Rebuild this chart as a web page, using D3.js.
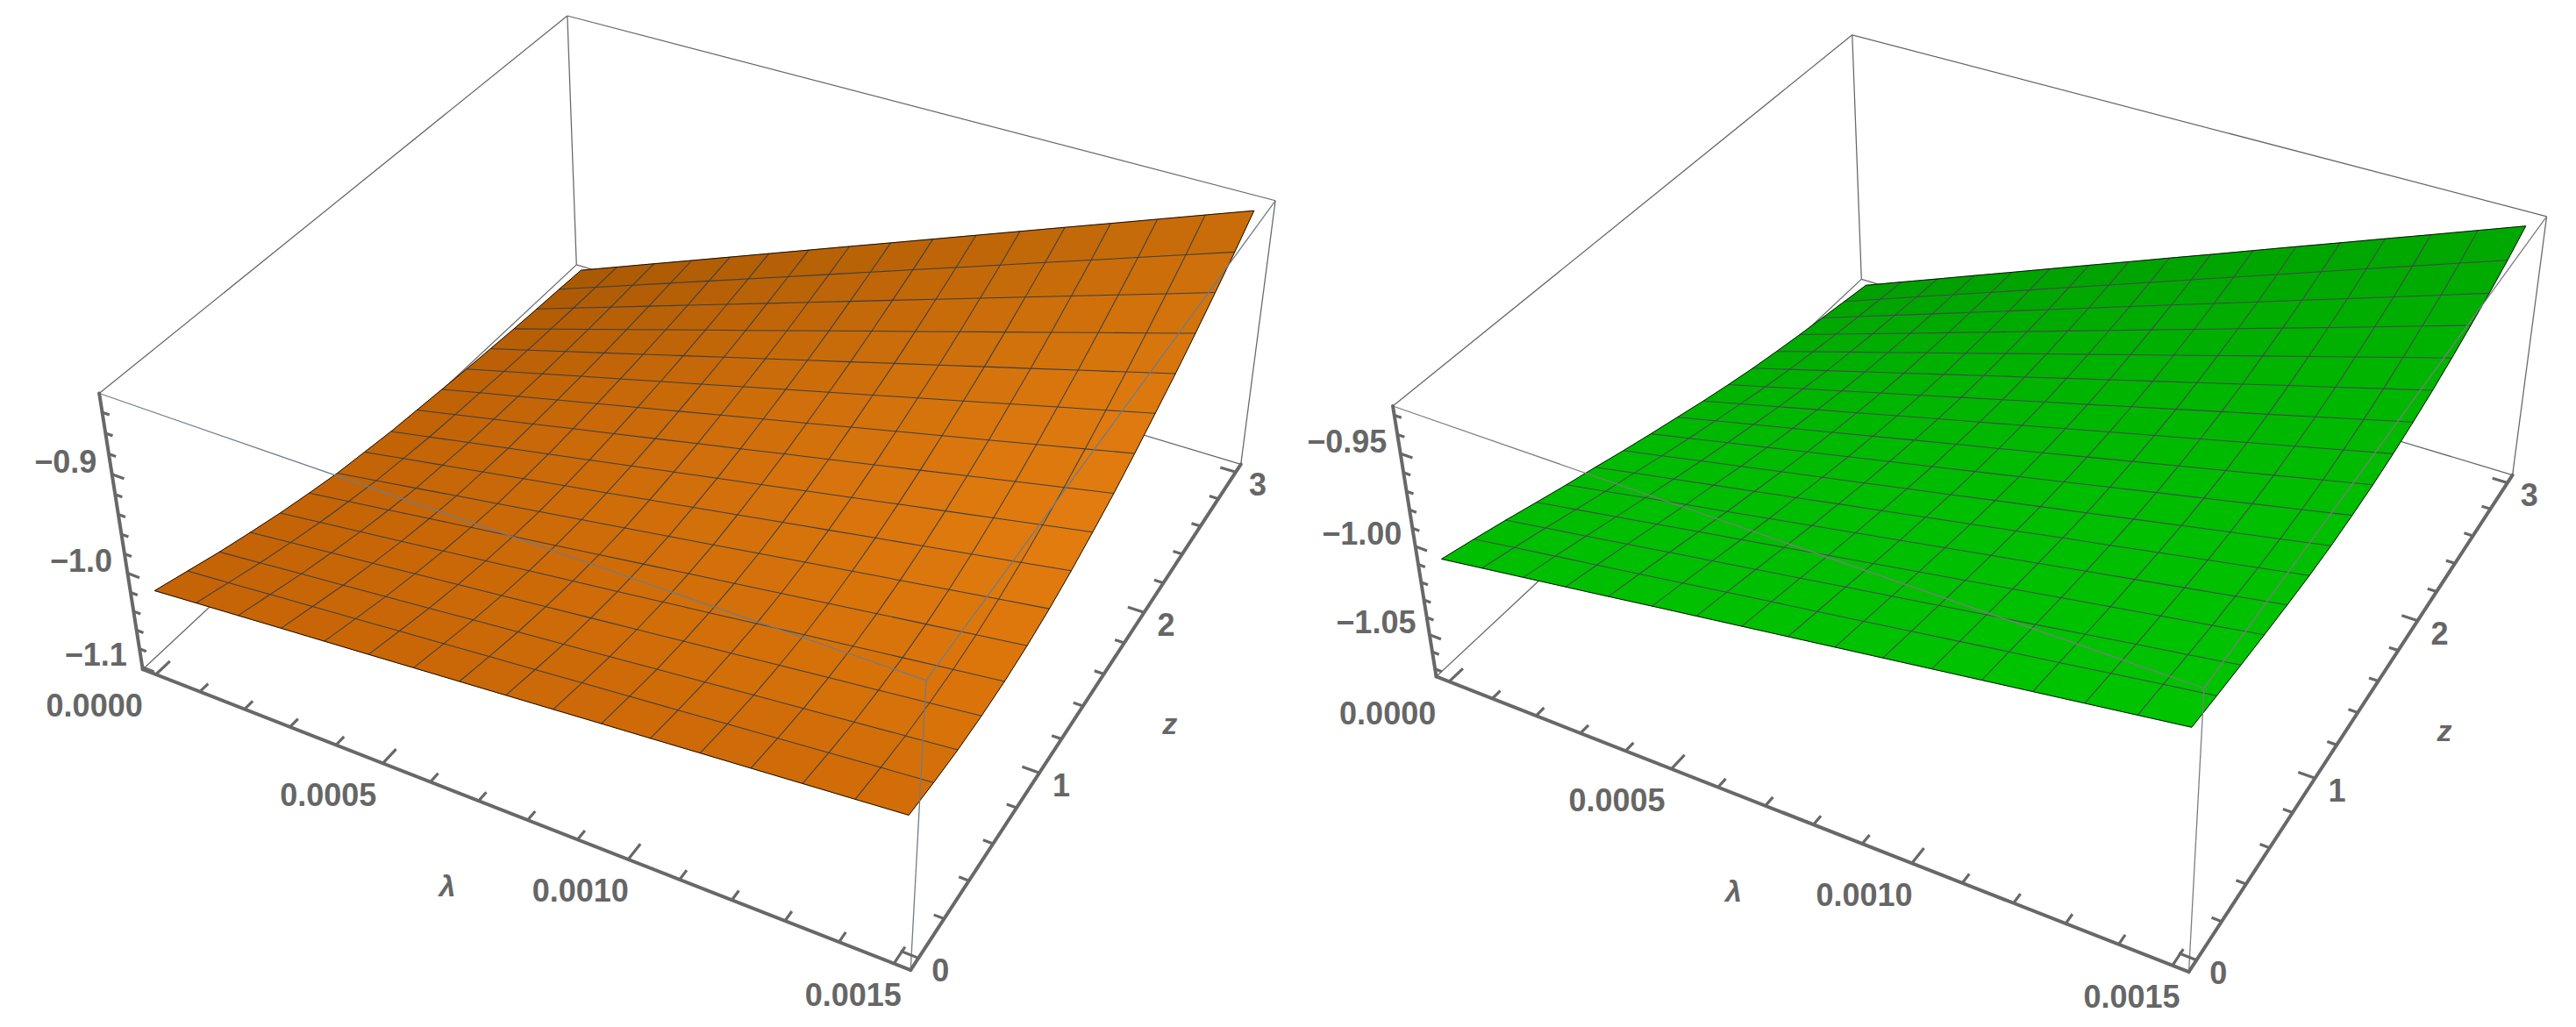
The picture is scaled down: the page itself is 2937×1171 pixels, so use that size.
<!DOCTYPE html>
<html>
<head>
<meta charset="utf-8">
<style>
html,body{margin:0;padding:0;background:#fff}
svg{display:block}
text{font-family:"Liberation Sans",Arial,sans-serif;fill:#666}
</style>
<script src="https://cdnjs.cloudflare.com/ajax/libs/d3/7.8.5/d3.min.js"></script>
</head>
<body>
<svg id="chart" width="2937" height="1171" viewBox="0 0 2937 1171"></svg>
<script>
// ---------- data ----------
const lambdaGrid = [0,0.00009375,0.0001875,0.00028125,0.000375,0.00046875,0.0005625,0.00065625,0.00075,0.00084375,0.0009375,0.00103125,0.001125,0.00121875,0.0013125,0.00140625,0.0015];
const zGrid = [0,0.1875,0.375,0.5625,0.75,0.9375,1.125,1.3125,1.5,1.6875,1.875,2.0625,2.25,2.4375,2.625,2.8125,3];

const lambdaMajorTicks = [0,0.0005,0.001,0.0015];
const lambdaTickLabels = ["0.0000","0.0005","0.0010","0.0015"];
const lambdaMinorTicks = [0.0001,0.0002,0.0003,0.0004,0.0006,0.0007,0.0008,0.0009,0.0011,0.0012,0.0013,0.0014];
const zMajorTicks = [0,1,2,3];
const zTickLabels = ["0","1","2","3"];
const zMinorTicks = [0.2,0.4,0.6,0.8,1.2,1.4,1.6,1.8,2.2,2.4,2.6,2.8];

const orangeValueMajor = [-1.1,-1.0,-0.9];
const orangeValueLabels = ["\u22121.1","\u22121.0","\u22120.9"];
const orangeValueMinor = [-1.08,-1.06,-1.04,-1.02,-0.98,-0.96,-0.94,-0.92,-0.88,-0.86,-0.84];
const orangeValueRange = [-1.1023,-0.8219];

const greenValueMajor = [-1.05,-1.0,-0.95];
const greenValueLabels = ["\u22121.05","\u22121.00","\u22120.95"];
const greenValueMinor = [-1.07,-1.06,-1.04,-1.03,-1.02,-1.01,-0.99,-0.98,-0.97,-0.96,-0.94,-0.93];
const greenValueRange = [-1.0745,-0.9253];

// rows: one per zGrid value; columns: one per lambdaGrid value
const orangeValues = [
[-1.0227,-1.0190,-1.0154,-1.0117,-1.0081,-1.0045,-1.0008,-0.9972,-0.9935,-0.9899,-0.9862,-0.9826,-0.9789,-0.9753,-0.9716,-0.9680,-0.9643],
[-1.0322,-1.0282,-1.0241,-1.0201,-1.0161,-1.0120,-1.0080,-1.0040,-1.0000,-0.9959,-0.9919,-0.9879,-0.9838,-0.9798,-0.9758,-0.9717,-0.9677],
[-1.0417,-1.0372,-1.0327,-1.0283,-1.0238,-1.0193,-1.0148,-1.0103,-1.0059,-1.0014,-0.9969,-0.9924,-0.9879,-0.9835,-0.9790,-0.9745,-0.9700],
[-1.0501,-1.0451,-1.0401,-1.0351,-1.0301,-1.0252,-1.0202,-1.0152,-1.0102,-1.0052,-1.0002,-0.9952,-0.9902,-0.9852,-0.9802,-0.9752,-0.9702],
[-1.0580,-1.0524,-1.0468,-1.0413,-1.0357,-1.0301,-1.0245,-1.0189,-1.0134,-1.0078,-1.0022,-0.9966,-0.9910,-0.9855,-0.9799,-0.9743,-0.9688],
[-1.0647,-1.0585,-1.0523,-1.0460,-1.0398,-1.0336,-1.0274,-1.0212,-1.0149,-1.0087,-1.0025,-0.9963,-0.9901,-0.9838,-0.9776,-0.9714,-0.9652],
[-1.0709,-1.0639,-1.0570,-1.0500,-1.0431,-1.0361,-1.0291,-1.0222,-1.0152,-1.0083,-1.0013,-0.9943,-0.9874,-0.9804,-0.9735,-0.9665,-0.9596],
[-1.0751,-1.0674,-1.0597,-1.0520,-1.0443,-1.0367,-1.0290,-1.0213,-1.0136,-1.0059,-0.9982,-0.9905,-0.9828,-0.9751,-0.9674,-0.9597,-0.9520],
[-1.0793,-1.0708,-1.0622,-1.0537,-1.0452,-1.0367,-1.0281,-1.0196,-1.0111,-1.0025,-0.9940,-0.9855,-0.9769,-0.9684,-0.9599,-0.9513,-0.9428],
[-1.0821,-1.0728,-1.0634,-1.0541,-1.0447,-1.0354,-1.0261,-1.0167,-1.0074,-0.9980,-0.9887,-0.9794,-0.9700,-0.9607,-0.9513,-0.9420,-0.9327],
[-1.0849,-1.0746,-1.0644,-1.0541,-1.0438,-1.0336,-1.0233,-1.0130,-1.0027,-0.9925,-0.9822,-0.9719,-0.9617,-0.9514,-0.9411,-0.9309,-0.9206],
[-1.0877,-1.0764,-1.0652,-1.0539,-1.0426,-1.0314,-1.0201,-1.0088,-0.9975,-0.9863,-0.9750,-0.9637,-0.9525,-0.9412,-0.9299,-0.9187,-0.9074],
[-1.0900,-1.0778,-1.0655,-1.0533,-1.0410,-1.0288,-1.0165,-1.0043,-0.9920,-0.9798,-0.9675,-0.9553,-0.9430,-0.9308,-0.9185,-0.9063,-0.8940],
[-1.0922,-1.0789,-1.0656,-1.0522,-1.0389,-1.0256,-1.0123,-0.9990,-0.9857,-0.9723,-0.9590,-0.9457,-0.9324,-0.9191,-0.9057,-0.8924,-0.8791],
[-1.0939,-1.0795,-1.0650,-1.0506,-1.0362,-1.0218,-1.0073,-0.9929,-0.9785,-0.9640,-0.9496,-0.9352,-0.9208,-0.9063,-0.8919,-0.8775,-0.8631],
[-1.0953,-1.0798,-1.0642,-1.0487,-1.0331,-1.0176,-1.0021,-0.9865,-0.9710,-0.9554,-0.9399,-0.9244,-0.9088,-0.8933,-0.8777,-0.8622,-0.8466],
[-1.0970,-1.0802,-1.0634,-1.0467,-1.0299,-1.0131,-0.9963,-0.9795,-0.9628,-0.9460,-0.9292,-0.9124,-0.8956,-0.8789,-0.8621,-0.8453,-0.8286]
];

const greenValues = [
[-1.0093,-1.0058,-1.0023,-0.9988,-0.9953,-0.9917,-0.9882,-0.9847,-0.9812,-0.9777,-0.9742,-0.9707,-0.9672,-0.9637,-0.9602,-0.9567,-0.9532],
[-1.0138,-1.0101,-1.0064,-1.0028,-0.9991,-0.9954,-0.9917,-0.9880,-0.9844,-0.9807,-0.9770,-0.9733,-0.9696,-0.9660,-0.9623,-0.9586,-0.9550],
[-1.0185,-1.0146,-1.0108,-1.0069,-1.0030,-0.9992,-0.9953,-0.9914,-0.9875,-0.9837,-0.9798,-0.9759,-0.9721,-0.9682,-0.9643,-0.9605,-0.9566],
[-1.0235,-1.0194,-1.0153,-1.0112,-1.0071,-1.0031,-0.9990,-0.9949,-0.9908,-0.9867,-0.9826,-0.9785,-0.9744,-0.9703,-0.9662,-0.9622,-0.9580],
[-1.0284,-1.0241,-1.0197,-1.0154,-1.0111,-1.0068,-1.0024,-0.9981,-0.9938,-0.9894,-0.9851,-0.9808,-0.9764,-0.9721,-0.9678,-0.9635,-0.9592],
[-1.0330,-1.0284,-1.0239,-1.0193,-1.0148,-1.0102,-1.0056,-1.0011,-0.9965,-0.9920,-0.9874,-0.9828,-0.9783,-0.9737,-0.9692,-0.9646,-0.9601],
[-1.0378,-1.0330,-1.0281,-1.0233,-1.0184,-1.0136,-1.0088,-1.0039,-0.9991,-0.9942,-0.9894,-0.9846,-0.9797,-0.9749,-0.9700,-0.9652,-0.9604],
[-1.0423,-1.0372,-1.0320,-1.0269,-1.0217,-1.0166,-1.0114,-1.0063,-1.0011,-0.9960,-0.9908,-0.9857,-0.9805,-0.9754,-0.9702,-0.9651,-0.9599],
[-1.0466,-1.0411,-1.0356,-1.0302,-1.0247,-1.0192,-1.0137,-1.0082,-1.0028,-0.9973,-0.9918,-0.9863,-0.9808,-0.9754,-0.9699,-0.9644,-0.9589],
[-1.0509,-1.0450,-1.0392,-1.0333,-1.0275,-1.0216,-1.0157,-1.0099,-1.0040,-0.9982,-0.9923,-0.9864,-0.9806,-0.9747,-0.9689,-0.9630,-0.9572],
[-1.0548,-1.0486,-1.0423,-1.0361,-1.0298,-1.0236,-1.0173,-1.0111,-1.0048,-0.9986,-0.9923,-0.9861,-0.9798,-0.9736,-0.9673,-0.9611,-0.9548],
[-1.0584,-1.0517,-1.0451,-1.0384,-1.0318,-1.0251,-1.0184,-1.0118,-1.0051,-0.9985,-0.9918,-0.9851,-0.9785,-0.9718,-0.9652,-0.9585,-0.9519],
[-1.0615,-1.0544,-1.0473,-1.0403,-1.0332,-1.0261,-1.0190,-1.0119,-1.0049,-0.9978,-0.9907,-0.9836,-0.9765,-0.9695,-0.9624,-0.9553,-0.9483],
[-1.0644,-1.0569,-1.0494,-1.0419,-1.0344,-1.0269,-1.0193,-1.0118,-1.0043,-0.9968,-0.9893,-0.9818,-0.9743,-0.9668,-0.9593,-0.9517,-0.9442],
[-1.0670,-1.0591,-1.0511,-1.0432,-1.0352,-1.0273,-1.0194,-1.0114,-1.0035,-0.9955,-0.9876,-0.9797,-0.9717,-0.9638,-0.9558,-0.9479,-0.9399],
[-1.0696,-1.0612,-1.0527,-1.0443,-1.0359,-1.0275,-1.0190,-1.0106,-1.0022,-0.9937,-0.9853,-0.9769,-0.9684,-0.9600,-0.9516,-0.9432,-0.9348],
[-1.0721,-1.0631,-1.0542,-1.0452,-1.0363,-1.0273,-1.0183,-1.0094,-1.0004,-0.9915,-0.9825,-0.9735,-0.9646,-0.9556,-0.9467,-0.9377,-0.9287]
];

// ---------- layout: the eight box corners on the page ([u,w,h] -> [x,y]) ----------
const cubeKeys = [[0,0,0],[1,0,0],[1,1,0],[0,1,0],[0,0,1],[1,0,1],[1,1,1],[0,1,1]];
const orangeBox = [[163,763.5],[1038,1106],[1415,529],[657,302],[113,448],[1056,776],[1454,229],[647,18]];
const greenBox  = [[1637.7,771.9],[2495.7,1107.9],[2864.7,541.5],[2122,318.4],[1588,462.3],[2512.6,785.3],[2903.6,246.8],[2112,40]];

function solve(A,b){
  const n=b.length, M=A.map((r,i)=>[...r,b[i]]);
  for(let c=0;c<n;c++){
    let p=c; for(let r=c+1;r<n;r++) if(Math.abs(M[r][c])>Math.abs(M[p][c])) p=r;
    [M[c],M[p]]=[M[p],M[c]];
    for(let r=0;r<n;r++){ if(r===c) continue; const f=M[r][c]/M[c][c]; for(let k=c;k<=n;k++) M[r][k]-=f*M[c][k]; }
  }
  return M.map((r,i)=>r[n]/r[i]);
}
// perspective camera fitted to the box corners
function fitCamera(box){
  const ox=box[0][0], oy=box[0][1], s=1000, rows=[], rhs=[];
  cubeKeys.forEach((c,i)=>{
    const x=(box[i][0]-ox)/s, y=(box[i][1]-oy)/s, [u,w,h]=c;
    rows.push([u,w,h,1,0,0,0,0,-x*u,-x*w,-x*h]); rhs.push(x);
    rows.push([0,0,0,0,u,w,h,1,-y*u,-y*w,-y*h]); rhs.push(y);
  });
  const ATA=d3.range(11).map(a=>d3.range(11).map(b=>d3.sum(rows,r=>r[a]*r[b])));
  const ATb=d3.range(11).map(a=>d3.sum(rows,(r,i)=>r[a]*rhs[i]));
  const p=solve(ATA,ATb);
  return (u,w,h)=>{
    const d=p[8]*u+p[9]*w+p[10]*h+1;
    return [ox+s*(p[0]*u+p[1]*w+p[2]*h+p[3])/d, oy+s*(p[4]*u+p[5]*w+p[6]*h+p[7])/d];
  };
}

const svg=d3.select("#chart");
const line=d3.line();
const pad=0.02/1.04;

function drawPanel(cfg){
  const g=svg.append("g");
  const project=fitCamera(cfg.box);
  const uScale=d3.scaleLinear().domain([0,0.0015]).range([pad,1-pad]);
  const wScale=d3.scaleLinear().domain([0,3]).range([pad,1-pad]);
  const hScale=d3.scaleLinear().domain(cfg.valueRange).range([0,1]);
  const pt=(l,z,v)=>project(uScale(l),wScale(z),hScale(v));
  const nodes=cfg.values.map((row,k)=>row.map((v,j)=>pt(lambdaGrid[j],zGrid[k],v)));
  const boxLine=(sel,a,b,st)=>sel.append("path").attr("d",line([project(...a),project(...b)])).attr("fill","none")
      .attr("stroke",st.color).attr("stroke-width",st.width).attr("stroke-linecap",st.cap||"butt").attr("opacity",st.opacity||1);

  // box edges behind the surface
  const thin={color:"#666",width:1.25};
  [[[0,0,0],[0,1,0]],[[0,1,0],[1,1,0]],[[0,1,0],[0,1,1]],[[0,0,1],[0,1,1]],[[0,1,1],[1,1,1]],[[1,1,0],[1,1,1]]]
    .forEach(e=>boxLine(g,e[0],e[1],thin));

  // surface cells
  const lowColor=d3.scaleLinear().domain(cfg.shadeStops.z).range(cfg.shadeStops.low).interpolate(d3.interpolateRgb);
  const highColor=d3.scaleLinear().domain(cfg.shadeStops.zHigh).range(cfg.shadeStops.high).interpolate(d3.interpolateRgb);
  const cells=[];
  for(let k=0;k<16;k++) for(let j=0;j<16;j++) cells.push({k,j});
  const cellColor=c=>{const z=(zGrid[c.k]+zGrid[c.k+1])/2,l=(lambdaGrid[c.j]+lambdaGrid[c.j+1])/2;return d3.interpolateRgb(lowColor(z),highColor(z))(l/0.0015);};
  g.append("g").selectAll("path").data(cells).join("path")
    .attr("d",c=>line([nodes[c.k][c.j],nodes[c.k][c.j+1],nodes[c.k+1][c.j+1],nodes[c.k+1][c.j]])+"Z")
    .attr("fill",cellColor).attr("stroke",cellColor).attr("stroke-width",0.7);

  // mesh
  const mesh=g.append("g").attr("fill","none").attr("stroke",cfg.meshColor).attr("stroke-width",1.05).attr("opacity",0.9);
  d3.range(1,16).forEach(k=>mesh.append("path").attr("d",line(nodes[k])));
  d3.range(1,16).forEach(j=>mesh.append("path").attr("d",line(nodes.map(r=>r[j]))));

  // outline
  const outline=[...nodes[0],...nodes.map(r=>r[16]),...[...nodes[16]].reverse(),...nodes.map(r=>r[0]).reverse()];
  g.append("path").attr("d",line(outline)+"Z").attr("fill","none").attr("stroke","#000").attr("stroke-width",0.9).attr("stroke-linejoin","round");

  // box edges in front of the surface
  const front={color:cfg.frontColor,width:1.3};
  [[[0,0,1],[1,0,1]],[[1,0,1],[1,1,1]],[[1,0,0],[1,0,1]]].forEach(e=>boxLine(g,e[0],e[1],front));

  // axes
  const axisSt={color:"#686868",width:4,cap:"round"};
  boxLine(g,[0,0,0],[1,0,0],axisSt);
  boxLine(g,[1,0,0],[1,1,0],axisSt);
  boxLine(g,[0,0,0],[0,0,1],axisSt);

  // ticks
  const tick=(p,q,w)=>g.append("path").attr("d",line([p,q])).attr("fill","none").attr("stroke","#686868").attr("stroke-width",w).attr("stroke-linecap","butt");
  const lamTick=(l,len,w)=>tick(project(uScale(l),0,0),project(uScale(l),len,0),w);
  const zTick=(z,len,w)=>tick(project(1,wScale(z),0),project(1-len,wScale(z),0),w);
  const valTick=(v,len,w)=>tick(project(0,0,hScale(v)),project(len,0,hScale(v)),w);
  lambdaMajorTicks.forEach(l=>lamTick(l,0.027,3.2));
  lambdaMinorTicks.forEach(l=>lamTick(l,0.016,3.2));
  zMajorTicks.forEach(z=>zTick(z,0.021,3.2));
  zMinorTicks.forEach(z=>zTick(z,0.012,3.2));
  cfg.valueMajor.forEach(v=>valTick(v,0.017,3.2));
  cfg.valueMinor.forEach(v=>valTick(v,0.010,3.2));

  // tick labels
  const label=(p,dx,dy,txt,cls)=>{
    const t=g.append("text").attr("x",p[0]+dx).attr("y",p[1]+dy).attr("dy","0.36em")
      .attr("text-anchor","middle").attr("font-size",36).attr("font-weight","bold").text(txt);
    if(cls==="axis") t.attr("font-style","italic").attr("font-size",34);
    return t;
  };
  const lamDx=d3.scaleLinear().domain([0,0.0015]).range([-70,-46.5]);
  lambdaMajorTicks.forEach((l,i)=>label(project(uScale(l),0,0),lamDx(l),35.5,lambdaTickLabels[i]));
  zMajorTicks.forEach((z,i)=>label(project(1,wScale(z),0),25,14,zTickLabels[i]));
  cfg.valueMajor.forEach((v,i)=>label(project(0,0,hScale(v)),cfg.valueLabelDx,-14.5,cfg.valueLabels[i]));

  // axis titles
  label(project(uScale(0.00075),0,0),-63.5,86,"\u03bb","axis");
  label(project(1,wScale(1.5),0),87,38,"z","axis");
}

drawPanel({
  box:orangeBox, values:orangeValues, valueRange:orangeValueRange,
  valueMajor:orangeValueMajor, valueMinor:orangeValueMinor, valueLabels:orangeValueLabels, valueLabelDx:-53,
  meshColor:"#2f3a48", frontColor:"#6f7c8a",
  shadeStops:{z:[0,1,2,2.6,3],low:["#c56407","#c36306","#be6106","#b05b05","#a85804"],
              zHigh:[0,0.5,1.5,2.2,3],high:["#d06c08","#d97309","#e47e10","#dc7a0e","#c86c0a"]}
});
drawPanel({
  box:greenBox, values:greenValues, valueRange:greenValueRange,
  valueMajor:greenValueMajor, valueMinor:greenValueMinor, valueLabels:greenValueLabels, valueLabelDx:-61,
  meshColor:"#4a3f55", frontColor:"#7d7d7d",
  shadeStops:{z:[0,1,2,2.6,3],low:["#00be00","#00bc00","#00b200","#00a800","#009e00"],
              zHigh:[0,1.5,2.2,3],high:["#00c400","#00bc00","#00b400","#00a800"]}
});
</script>
</body>
</html>
